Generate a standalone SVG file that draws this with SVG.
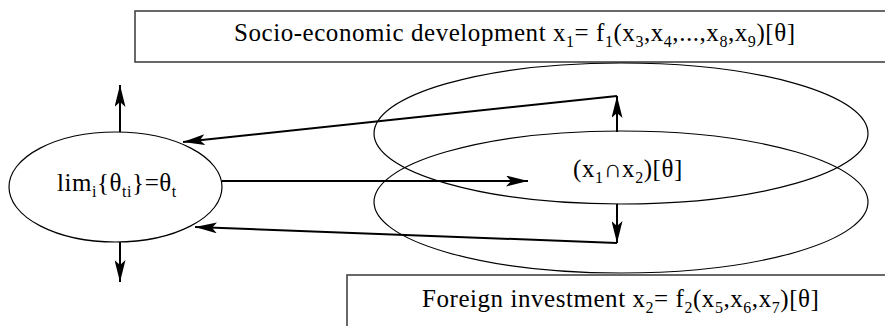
<svg xmlns="http://www.w3.org/2000/svg" width="885" height="326" viewBox="0 0 885 326">
<style>
.box{fill:#fff;stroke:#444;stroke-width:1.6}
.ell{fill:none;stroke:#000;stroke-width:1.2}
.t{font-family:"Liberation Serif","Times New Roman",serif;fill:#000;font-size:25px;letter-spacing:0.55px}
.s{font-size:16px}
.ln{stroke:#000;stroke-width:2;fill:none}
</style>
<defs>
<marker id="ah" viewBox="0 0 22 11" refX="22" refY="5.5" markerWidth="22" markerHeight="11" markerUnits="userSpaceOnUse" orient="auto">
<path d="M0,0 L22,5.5 L0,11 L5,5.5 Z" fill="#000"/>
</marker>
</defs>
<g id="top-box">
<rect class="box" x="135" y="11" width="760" height="51"/>
<text class="t" x="234" y="41">Socio-economic development x<tspan class="s" dy="6">1</tspan><tspan dy="-6">= f</tspan><tspan class="s" dy="6">1</tspan><tspan dy="-6">(x</tspan><tspan class="s" dy="6">3</tspan><tspan dy="-6">,x</tspan><tspan class="s" dy="6">4</tspan><tspan dy="-6">,...,x</tspan><tspan class="s" dy="6">8</tspan><tspan dy="-6">,x</tspan><tspan class="s" dy="6">9</tspan><tspan dy="-6">)[θ]</tspan></text>
</g>
<g id="bottom-box">
<rect class="box" x="347" y="275" width="560" height="70"/>
<text class="t" x="422" y="307">Foreign investment x<tspan class="s" dy="6">2</tspan><tspan dy="-6">= f</tspan><tspan class="s" dy="6">2</tspan><tspan dy="-6">(x</tspan><tspan class="s" dy="6">5</tspan><tspan dy="-6">,x</tspan><tspan class="s" dy="6">6</tspan><tspan dy="-6">,x</tspan><tspan class="s" dy="6">7</tspan><tspan dy="-6">)[θ]</tspan></text>
</g>
<g id="upper-ellipse">
<ellipse class="ell" cx="621" cy="133.5" rx="247" ry="70.5"/>
</g>
<g id="lower-ellipse">
<ellipse class="ell" cx="621" cy="202" rx="247" ry="71"/>
</g>
<g id="intersection">
<text class="t" x="573" y="177">(x<tspan class="s" dy="6">1</tspan><tspan dy="-6">∩x</tspan><tspan class="s" dy="6">2</tspan><tspan dy="-6">)[θ]</tspan></text>
</g>
<g id="limit">
<ellipse class="ell" cx="115.5" cy="187" rx="106.5" ry="55"/>
<text class="t" x="57" y="191">lim<tspan class="s" dy="6">i</tspan><tspan dy="-6">{θ</tspan><tspan class="s" dy="6">ti</tspan><tspan dy="-6">}=θ</tspan><tspan class="s" dy="6">t</tspan></text>
</g>
<g id="connectors">
<line class="ln" x1="120" y1="132" x2="120" y2="85" marker-end="url(#ah)"/>
<line class="ln" x1="120" y1="242" x2="120" y2="282" marker-end="url(#ah)"/>
<line class="ln" x1="222" y1="181" x2="528" y2="181" marker-end="url(#ah)"/>
<line class="ln" x1="617" y1="132" x2="617" y2="96" marker-end="url(#ah)"/>
<line class="ln" x1="617" y1="96" x2="183" y2="142" marker-end="url(#ah)"/>
<line class="ln" x1="617" y1="204" x2="617" y2="243" marker-end="url(#ah)"/>
<line class="ln" x1="617" y1="243" x2="195" y2="227" marker-end="url(#ah)"/>
</g>
</svg>
